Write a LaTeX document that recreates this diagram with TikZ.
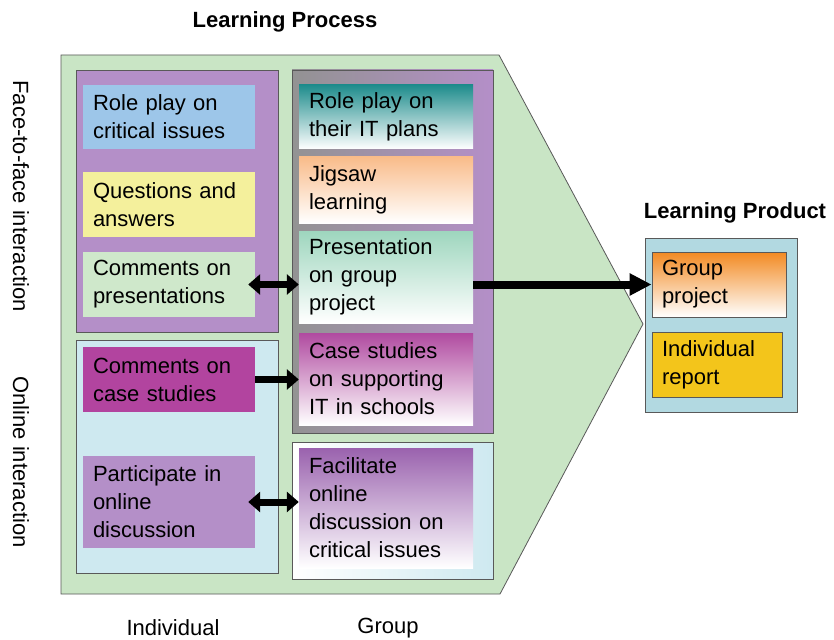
\documentclass[tikz,border=0pt]{standalone}
\usepackage{fontspec}
\setmainfont{Liberation Sans}
\usetikzlibrary{arrows.meta}

\definecolor{leafgreen}{HTML}{C9E5C5}
\definecolor{mauve}{HTML}{B48FC8}
\definecolor{skyblue}{HTML}{9DC6E9}
\definecolor{lemon}{HTML}{F4F09C}
\definecolor{palemint}{HTML}{CFE8CB}
\definecolor{iceblue}{HTML}{CEE9F0}
\definecolor{fuchsia}{HTML}{B2449F}
\definecolor{teal}{HTML}{1E8C8C}
\definecolor{peach}{HTML}{F9BC8A}
\definecolor{mint}{HTML}{9ED6BE}
\definecolor{orchid}{HTML}{B04AA0}
\definecolor{plum}{HTML}{9A62AE}
\definecolor{tangerine}{HTML}{F28A22}
\definecolor{gold}{HTML}{F3C51B}
\definecolor{productblue}{HTML}{B2D9E1}

\tikzset{
  itembox/.style={rectangle, inner xsep=10pt, inner ysep=0pt, align=left,
    font=\fontsize{22}{28}\selectfont},
  panel/.style={draw=black!65, line width=0.8pt},
  headtext/.style={font=\fontsize{22}{28}\selectfont\bfseries},
  sidetext/.style={font=\fontsize{22}{28}\selectfont},
  bigarrow/.style={line width=8pt, -{Triangle[length=22pt,width=21pt]}},
  onearrow/.style={line width=7pt, -{Triangle[length=12pt,width=20pt]}},
  twoarrow/.style={line width=7pt, shorten <=-7pt,
    {Triangle[length=12pt,width=20pt]}-{Triangle[length=12pt,width=20pt]}},
}

\begin{document}
\begin{tikzpicture}[x=1pt, y=-1pt]

        \useasboundingbox [fill=white] (0,0) rectangle (834,639) ;

        \draw [panel, fill=leafgreen] (61,55) -- (499,55) -- (643,324) -- (500,594) -- (61,594) -- cycle ;

        \draw [panel, fill=mauve] (76,70) rectangle (278,332) ;
        \draw [panel, fill=iceblue] (76,340) rectangle (278,573) ;
        \draw [panel, left color=gray!85, middle color=mauve, right color=mauve] (292,70) rectangle (493,433) ;
        \draw [panel, left color=white, right color=iceblue] (292,442) rectangle (493,579) ;
        \draw [panel, fill=productblue] (645,238) rectangle (797,412) ;

        \node [itembox, fill=skyblue, text width=152pt, minimum height=64pt] (roleplay) at (169,117) {Role play on\\critical issues} ;
        \node [itembox, fill=lemon, text width=152pt, minimum height=65pt] (questions) at (169,204.5) {Questions and\\answers} ;
        \node [itembox, fill=palemint, text width=152pt, minimum height=65pt] (compres) at (169,284.5) {Comments on\\presentations} ;
        \node [itembox, fill=fuchsia, text width=152pt, minimum height=65pt] (commcase) at (169,379.5) {Comments on\\case studies} ;
        \node [itembox, fill=mauve, text width=152pt, minimum height=92pt] (particip) at (169,502) {Participate in\\online\\discussion} ;

        \node [itembox, top color=teal, bottom color=white, text width=154pt, minimum height=64pt] (roleplan) at (386,117) {Role play on\\their IT plans} ;
        \node [itembox, top color=peach, bottom color=white, text width=154pt, minimum height=66pt] (jigsaw) at (386,190) {Jigsaw\\learning} ;
        \node [itembox, top color=mint, bottom color=white, text width=154pt, minimum height=92pt] (presgroup) at (386,277) {Presentation\\on group\\project} ;
        \node [itembox, top color=orchid, bottom color=white, text width=154pt, minimum height=92pt] (casestud) at (386,379) {Case studies\\on supporting\\IT in schools} ;
        \node [itembox, top color=plum, bottom color=white, text width=154pt, minimum height=120pt] (facil) at (386,508) {Facilitate\\online\\discussion on\\critical issues} ;

        \node [itembox, panel, top color=tangerine, bottom color=white, text width=114pt, minimum height=65pt] (grproj) at (719,284.5) {Group\\project} ;
        \node [itembox, panel, fill=gold, text width=110pt, minimum height=65pt] (indrep) at (717,364.5) {Individual\\report} ;

        \node [headtext] (process) at (285,22) {Learning Process} ;
        \node [headtext] (product) at (735,213) {Learning Product} ;
        \node [sidetext] (indiv) at (173,628) {Individual} ;
        \node [sidetext] (group) at (388,628) {Group} ;
        \node [sidetext, rotate=-90] (facetoface) at (21,196) {Face-to-face interaction} ;
        \node [sidetext, rotate=-90] (online) at (21,462) {Online interaction} ;

        \draw [twoarrow] (compres.east) -- (compres.east -| presgroup.west) ;
        \draw [onearrow] (commcase.east) -- (commcase.east -| casestud.west) ;
        \draw [twoarrow] (particip.east) -- (particip.east -| facil.west) ;
        \draw [bigarrow] (presgroup.east |- grproj.west) -- (grproj.west) ;

      \end{tikzpicture}
\end{document}
